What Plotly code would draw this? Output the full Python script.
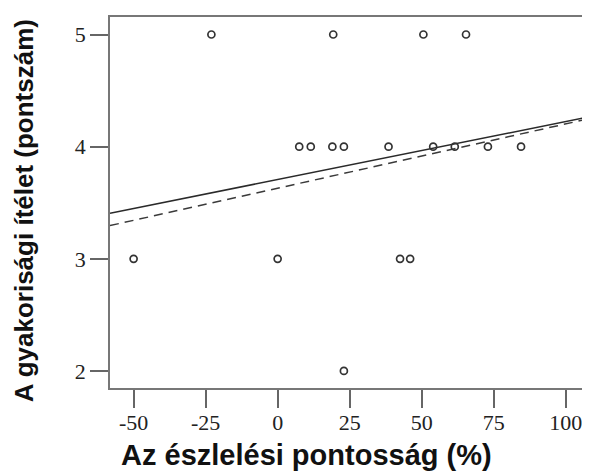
import plotly.graph_objects as go

# Data
x_vals = [-23, 19.3, 50.6, 65.4,
          7.5, 11.5, 19, 23, 38.5, 54, 61.5, 73, 84.5,
          -50, 0, 42.5, 46,
          23]
y_vals = [5, 5, 5, 5,
          4, 4, 4, 4, 4, 4, 4, 4, 4,
          3, 3, 3, 3,
          2]

# Fit lines: x endpoints and y values
fit_x = [-58.2, 107.4]
fit_solid_y = [3.406, 4.262]
fit_dashed_y = [3.296, 4.245]

x_tickvals = [-50, -25, 0, 25, 50, 75, 100]
x_ticktext = ["-50", "-25", "0", "25", "50", "75", "100"]
y_tickvals = [2, 3, 4, 5]
y_ticktext = ["2", "3", "4", "5"]

x_title = "Az észlelési pontosság (%)"
y_title = "A gyakorisági ítélet (pontszám)"

fig = go.Figure()
fig.add_trace(go.Scatter(x=fit_x, y=fit_solid_y, mode="lines",
                         line=dict(color="#2a2a2a", width=1.5), showlegend=False))
fig.add_trace(go.Scatter(x=fit_x, y=fit_dashed_y, mode="lines",
                         line=dict(color="#3a3a3a", width=1.5, dash="9px,6px"), showlegend=False))
fig.add_trace(go.Scatter(x=x_vals, y=y_vals, mode="markers",
                         marker=dict(symbol="circle-open", size=7, color="#333333",
                                     line=dict(width=1.7, color="#333333")),
                         showlegend=False))

axis_common = dict(showgrid=False, zeroline=False, showline=True, mirror=True,
                   linecolor="#777777", linewidth=1.5, automargin=False,
                   ticks="outside", ticklen=18, tickwidth=1.5, tickcolor="#666666",
                   tickfont=dict(family="Liberation Serif", size=22, color="#222222"))

# The page body keeps a default 8px margin, so the figure is sized to fit the window
fig.update_layout(
    width=582, height=468,
    margin=dict(l=102, r=3, t=9, b=88),
    paper_bgcolor="white", plot_bgcolor="white",
    xaxis=dict(range=[-58.2, 107.4], tickvals=x_tickvals, ticktext=x_ticktext,
               ticklabelstandoff=-4, **axis_common),
    yaxis=dict(range=[1.848, 5.156], tickvals=y_tickvals, ticktext=y_ticktext,
               **axis_common),
    annotations=[
        dict(text=x_title, xref="paper", yref="paper", x=0.411, y=-0.1806,
             xanchor="center", yanchor="middle", showarrow=False,
             font=dict(family="Liberation Sans", size=29, color="#111111", weight="bold")),
        dict(text=y_title, xref="paper", yref="paper", x=-0.1796, y=0.477,
             xanchor="center", yanchor="middle", textangle=-90, showarrow=False,
             font=dict(family="Liberation Sans", size=26, color="#111111", weight="bold")),
    ],
)

fig.write_html("out.html")
